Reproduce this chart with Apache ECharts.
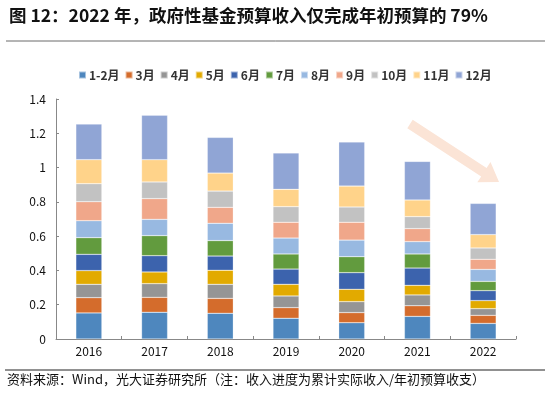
<!DOCTYPE html>
<html>
<head>
<meta charset="utf-8">
<script src="https://cdn.jsdelivr.net/npm/echarts@6/dist/echarts.min.js"></script>
<style>
html,body{margin:0;padding:0;background:#fff;}
#c{width:550px;height:393px;}
</style>
</head>
<body>
<div id="c"></div>
<script>
const years = ['2016','2017','2018','2019','2020','2021','2022'];
const months = ['1-2月','3月','4月','5月','6月','7月','8月','9月','10月','11月','12月'];
const colors = ['#4E87BE','#D46C2C','#959595','#E2AA00','#3C63AD','#629B3E','#98B9E1','#F0A78A','#C2C2C2','#FFD38A','#90A5D5'];
const yTicks = [0,0.2,0.4,0.6,0.8,1,1.2,1.4];
// monthly increments per year (index = month group, order matches years)
const m12 = [0.152,0.156,0.150,0.121,0.095,0.132,0.091];
const m3  = [0.089,0.087,0.087,0.062,0.059,0.062,0.047];
const m4  = [0.078,0.080,0.082,0.068,0.064,0.063,0.039];
const m5  = [0.080,0.068,0.082,0.068,0.072,0.056,0.047];
const m6  = [0.095,0.095,0.083,0.089,0.097,0.101,0.058];
const m7  = [0.097,0.117,0.090,0.088,0.093,0.082,0.054];
const m8  = [0.099,0.095,0.101,0.093,0.097,0.072,0.070];
const m9  = [0.111,0.121,0.093,0.092,0.104,0.076,0.059];
const m10 = [0.105,0.097,0.095,0.091,0.089,0.070,0.066];
const m11 = [0.140,0.130,0.105,0.101,0.122,0.097,0.078];
const m12m= [0.208,0.259,0.208,0.212,0.257,0.225,0.182];
const seriesData = [m12,m3,m4,m5,m6,m7,m8,m9,m10,m11,m12m];

const titleText = '图 12：2022 年，政府性基金预算收入仅完成年初预算的 79%';
const footText = '资料来源：Wind，光大证券研究所（注：收入进度为累计实际收入/年初预算收支）';

const chart = echarts.init(document.getElementById('c'));
const cjk = '"Noto Sans CJK SC","Noto Sans",sans-serif';
chart.setOption({
  animation:false,
  textStyle:{fontFamily:cjk},
  color:colors,
  title:{text:titleText,left:4,top:2,textStyle:{fontSize:17.5,fontWeight:'bold',color:'#111',fontFamily:cjk}},
  legend:{
    data:months,left:73,top:64,itemWidth:7,itemHeight:7,itemGap:5,icon:'rect',
    textStyle:{fontSize:12,fontWeight:'bold',color:'#333',fontFamily:cjk,padding:[0,0,0,-2]}
  },
  grid:{left:56,right:34,top:99,bottom:54},
  xAxis:{
    type:'category',data:years,
    axisLine:{lineStyle:{color:'#888',width:1}},
    axisTick:{show:true,inside:true,length:3,lineStyle:{color:'#888'}},
    axisLabel:{fontSize:12,color:'#111',margin:6}
  },
  yAxis:{
    type:'value',min:0,max:1.4,interval:0.2,
    axisLine:{show:true,lineStyle:{color:'#888'}},
    axisTick:{show:true,inside:true,length:3,lineStyle:{color:'#888'}},
    splitLine:{show:false},
    axisLabel:{fontSize:12,color:'#111',margin:10,formatter:v=>{const t=yTicks.find(x=>Math.abs(x-v)<1e-9);return t===undefined?'':String(t);}}
  },
  series:seriesData.map((d,i)=>({
    name:months[i],type:'bar',stack:'total',data:d,barWidth:26,
    itemStyle:{color:colors[i],borderColor:'rgba(255,255,255,0.5)',borderWidth:0.5}
  })),
  graphic:[
    {type:'line',shape:{x1:6,y1:41,x2:545,y2:41},style:{stroke:'#444',lineWidth:0.8}},
    {type:'line',shape:{x1:5,y1:370,x2:545,y2:370},style:{stroke:'#222',lineWidth:1}},
    {type:'text',left:7,top:373,style:{text:footText,fontSize:13,fill:'#111',fontFamily:cjk}},
    {type:'polygon',shape:{points:[[412.7,119.8],[486.6,168.0],[490.5,162.1],[499,182],[477.3,182.3],[481.2,176.4],[407.3,128.2]]},style:{fill:'#FBE4D6'}}
  ]
});
</script>
</body>
</html>
